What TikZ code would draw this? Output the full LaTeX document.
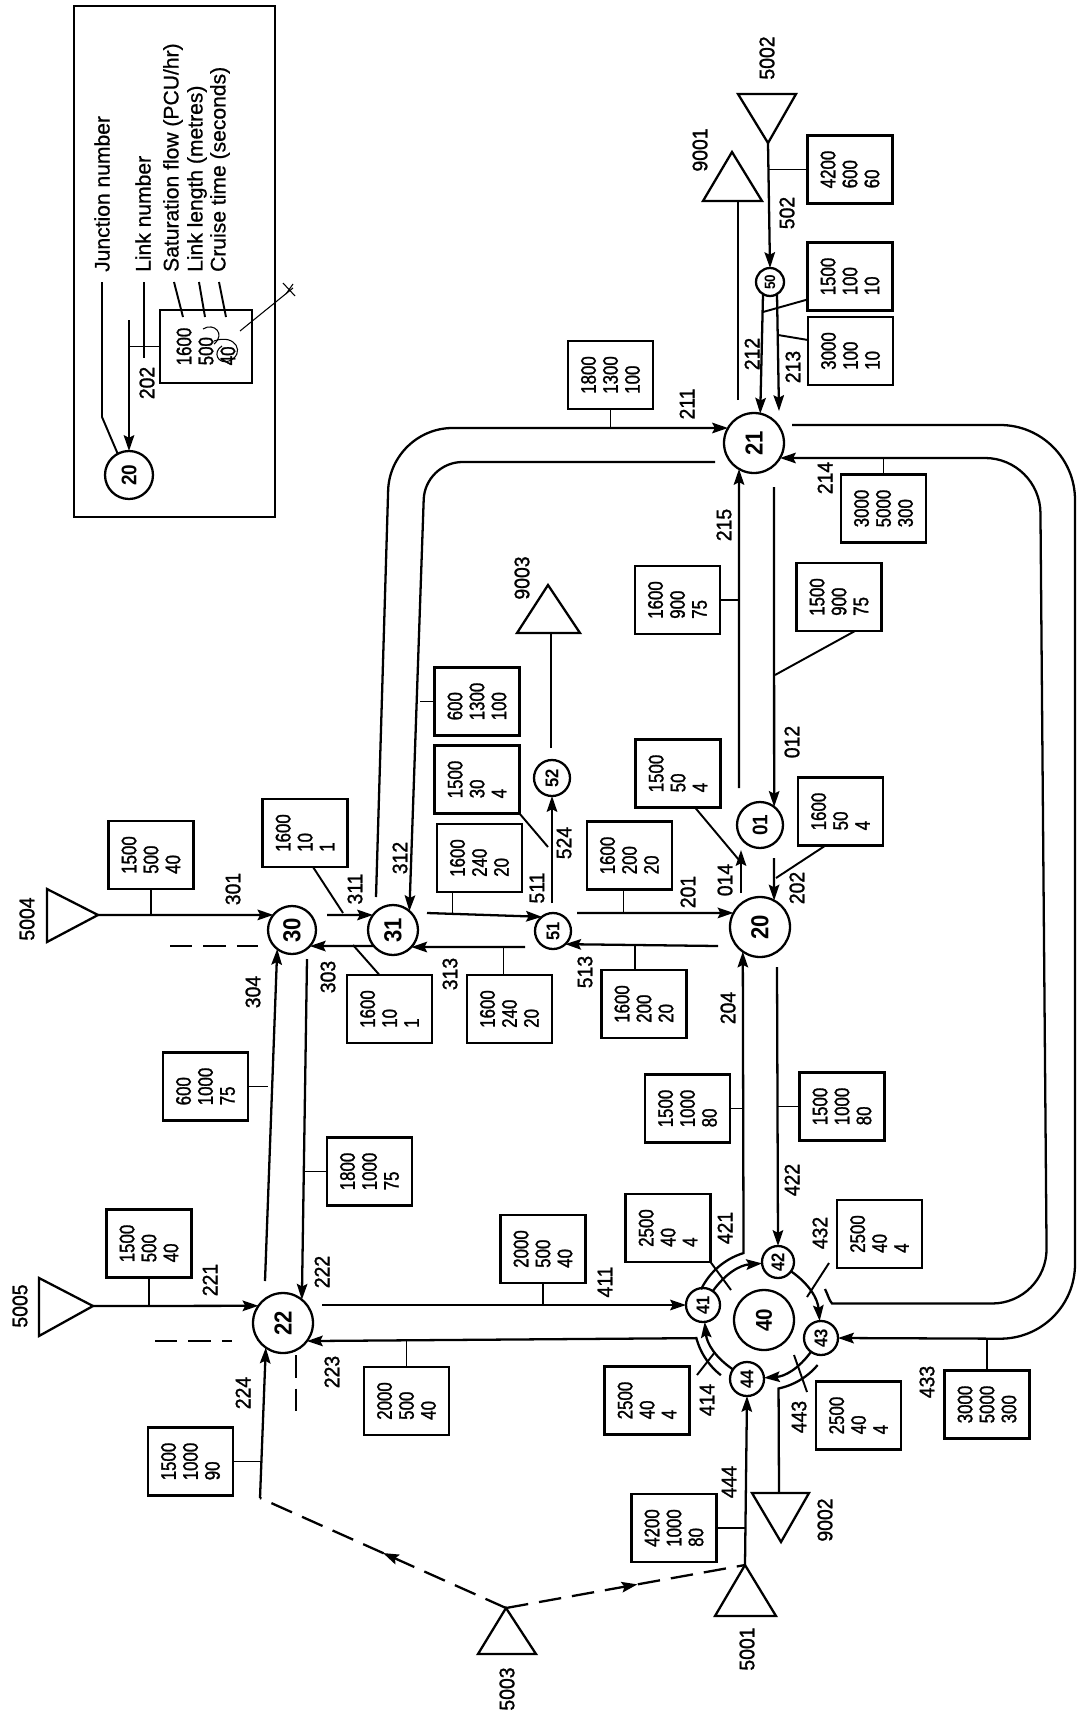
\documentclass[tikz,border=0pt]{standalone}
\usepackage{fontspec}
\usepackage{graphicx}
\setmainfont{Liberation Sans}[FakeBold=0.8]
\newfontfamily\boxfont{Liberation Sans}[FakeStretch=0.8,FakeBold=1.3]
\newfontfamily\labfont{Liberation Sans}[FakeStretch=0.92,FakeBold=1.3]
\newfontfamily\jfont{Liberation Sans}[FakeStretch=0.9]
\usetikzlibrary{arrows.meta,calc,decorations.markings}
\newcommand\rt[1]{\rotatebox{90}{#1}}
\begin{document}
\begin{tikzpicture}[x=0.02cm,y=-0.02cm,line width=1.3pt,
  arr/.style={-{Stealth[length=9pt,width=6pt,inset=1.5pt]}},
  tick/.style={line width=1.1pt},
  dbox/.style={draw,rotate=90,align=left,minimum width=1.36cm,minimum height=1.7cm,inner sep=0pt,outer sep=0pt,font=\boxfont\fontsize{12}{12.5}\selectfont},
  lab/.style={rotate=90,inner sep=0pt,font=\labfont\fontsize{12}{12}\selectfont},
  leg/.style={rotate=90,inner sep=0pt,anchor=west,font=\fontsize{12}{12}\selectfont},
  jn/.style={draw,circle,inner sep=0pt,outer sep=0pt,minimum size=#1,font=\jfont\bfseries\fontsize{14}{14}\selectfont},
  js/.style={draw,circle,inner sep=0pt,outer sep=0pt,minimum size=#1,font=\jfont\bfseries\fontsize{10.5}{10.5}\selectfont},
  dsh/.style={dash pattern=on 0.45cm off 0.22cm},
  midarr/.style={postaction={decorate},decoration={markings,mark=at position #1 with {\arrow{Stealth[length=9pt,width=6pt,inset=1.5pt]}}}},
  hand/.style={line width=0.6pt}]
\useasboundingbox (0,0) rectangle (1077,1717);

% ---------------- legend ----------------
\node[draw,minimum width=4.02cm,minimum height=10.22cm,inner sep=0pt,outer sep=0pt] (legend) at (174.5,261.5) {};
\node[jn=0.96cm,font=\jfont\bfseries\fontsize{12}{12}\selectfont] (j20L) at (129,475) {\rt{20}};
\node[dbox,minimum width=1.46cm,minimum height=1.84cm] (B1) at (206,346.5) {1600\\500\\40};
\node[leg] (tJun) at (102,273) {Junction number};
\node[leg] (tLink) at (143,273) {Link number};
\node[leg] (tSat) at (173,273) {Saturation flow (PCU/hr)};
\node[leg] (tLen) at (197,273) {Link length (metres)};
\node[leg] (tCru) at (220,273) {Cruise time (seconds)};
\node[lab] (l202L) at (147,383) {202};
\coordinate (c202L) at (129,320);
\draw[arr] (c202L) -- (j20L);
\draw[tick] (B1.north) -- (B1.north -| 129,0);
\draw[tick] ([shift={(0,9)}]tJun.west) -- (102,417) -- (j20L.118);
\draw[tick] ([shift={(1,9)}]tLink.west) -- (144,358);
\draw[tick] ([shift={(1,9)}]tSat.west) -- (183,317);
\draw[tick] ([shift={(2,9)}]tLen.west) -- (205,317);
\draw[tick] ([shift={(-1,9)}]tCru.west) -- (226,317);
% handwritten marks
\draw[hand] (203,329) .. controls (214,322) and (226,334) .. (214,344);
\draw[hand] (214,341) .. controls (236,333) and (246,354) .. (229,361) .. controls (218,365) and (212,352) .. (222,346);
\draw[hand] (240,331) -- (293,288);
\draw[hand] (283,283) -- (295,296);
\draw[hand] (286,294) -- (293,284);

% ---------------- junctions ----------------
\node[jn=1.2cm] (j21) at (754,443) {\rt{21}};
\node[jn=1.2cm] (j20) at (760,927) {\rt{20}};
\node[jn=0.92cm,font=\jfont\bfseries\fontsize{12}{12}\selectfont] (j01) at (760,825) {\rt{01}};
\node[jn=0.96cm] (j30) at (292,930) {\rt{30}};
\node[jn=1.0cm] (j31) at (393,930) {\rt{31}};
\node[js=0.72cm] (j51) at (553,931) {\rt{51}};
\node[js=0.72cm] (j52) at (552,778) {\rt{52}};
\node[js=0.56cm,font=\jfont\bfseries\fontsize{8.5}{8.5}\selectfont] (j50) at (770,282) {\rt{50}};
\node[jn=1.2cm] (j22) at (283,1323) {\rt{22}};
\node[jn=1.2cm,font=\jfont\bfseries\fontsize{13}{13}\selectfont] (j40) at (764,1320) {\rt{40}};
\node[js=0.68cm] (j41) at (703,1305) {\rt{41}};
\node[js=0.64cm] (j42) at (778,1262) {\rt{42}};
\node[js=0.68cm] (j43) at (821,1338) {\rt{43}};
\node[js=0.68cm] (j44) at (747,1379) {\rt{44}};

% ---------------- zones (triangles) ----------------
\coordinate (t5002) at (768,143); \draw (738,94) -- (796,94) -- (t5002) -- cycle;
\coordinate (t9001) at (732,152); \draw (t9001) -- (762,201) -- (703,201) -- cycle;
\coordinate (t9003) at (548,585); \draw (t9003) -- (580,633) -- (517,633) -- cycle;
\coordinate (t5004) at (98,915);  \draw (47,889) -- (t5004) -- (47,942) -- cycle;
\coordinate (t5005) at (93,1306); \draw (39,1278) -- (t5005) -- (39,1336) -- cycle;
\coordinate (t5003) at (506,1608); \draw (t5003) -- (536,1654) -- (478,1654) -- cycle;
\coordinate (t5001) at (745,1565); \draw (t5001) -- (776,1616) -- (715,1616) -- cycle;
\coordinate (t9002) at (781,1542); \draw (752,1493) -- (809,1493) -- (t9002) -- cycle;
\coordinate (t9001b) at (738,201);
\coordinate (t9003b) at (551,633);
\coordinate (t9002t) at (779,1493);
\node[lab] (z5002) at (767,58) {5002};
\node[lab] (z9001) at (700,150) {9001};
\node[lab] (z9003) at (522,578) {9003};
\node[lab] (z5004) at (27,919) {5004};
\node[lab] (z5005) at (20,1306) {5005};
\node[lab] (z5003) at (507,1689) {5003};
\node[lab] (z5001) at (747,1649) {5001};
\node[lab] (z9002) at (825,1520) {9002};

% ---------------- data boxes ----------------
\node[dbox] (B211) at (610.5,375) {1800\\1300\\100};
\node[dbox] (B502) at (850,169.5) {4200\\600\\60};
\node[dbox] (B212) at (850,276.5) {1500\\100\\10};
\node[dbox] (B213) at (850.5,351) {3000\\100\\10};
\node[dbox] (B214) at (883.5,508.5) {3000\\5000\\300};
\node[dbox] (B215) at (677.5,600) {1600\\900\\75};
\node[dbox] (B012) at (839,597) {1500\\900\\75};
\node[dbox] (B312) at (477,701.5) {600\\1300\\100};
\node[dbox] (B524) at (477,779.5) {1500\\30\\4};
\node[dbox] (B014) at (678,773.5) {1500\\50\\4};
\node[dbox] (B202) at (840.5,811.5) {1600\\50\\4};
\node[dbox] (B301) at (151,855) {1500\\500\\40};
\node[dbox] (B311) at (305,833) {1600\\10\\1};
\node[dbox] (B511) at (479.5,858) {1600\\240\\20};
\node[dbox] (B201) at (629.5,855.5) {1600\\200\\20};
\node[dbox] (B303) at (389.5,1009) {1600\\10\\1};
\node[dbox] (B313) at (509.5,1009) {1600\\240\\20};
\node[dbox] (B513) at (644,1004) {1600\\200\\20};
\node[dbox] (B304) at (205.5,1086.5) {600\\1000\\75};
\node[dbox] (B204) at (687.5,1108.5) {1500\\1000\\80};
\node[dbox] (B422) at (842,1106.5) {1500\\1000\\80};
\node[dbox] (B222) at (369.5,1171.5) {1800\\1000\\75};
\node[dbox] (B221) at (149,1243.5) {1500\\500\\40};
\node[dbox] (B411) at (543,1249) {2000\\500\\40};
\node[dbox] (B421) at (668,1228) {2500\\40\\4};
\node[dbox] (B432) at (879.5,1234) {2500\\40\\4};
\node[dbox] (B223) at (406.5,1401) {2000\\500\\40};
\node[dbox] (B414) at (647,1400.5) {2500\\40\\4};
\node[dbox] (B443) at (858.5,1415.5) {2500\\40\\4};
\node[dbox] (B433) at (987,1404.5) {3000\\5000\\300};
\node[dbox] (B224) at (190.5,1461.5) {1500\\1000\\90};
\node[dbox] (B444) at (674,1528) {4200\\1000\\80};

% ---------------- link labels ----------------
\node[lab] (l211) at (687,404) {211};
\node[lab] (l212) at (752,354) {212};
\node[lab] (l213) at (793,367) {213};
\node[lab] (l502) at (787,213) {502};
\node[lab] (l214) at (825,478) {214};
\node[lab] (l215) at (724,525) {215};
\node[lab] (l012) at (792,742) {012};
\node[lab] (l312) at (400,858) {312};
\node[lab] (l524) at (564,843) {524};
\node[lab] (l014) at (725,880) {014};
\node[lab] (l202) at (797,888) {202};
\node[lab] (l301) at (233,889) {301};
\node[lab] (l311) at (355,889) {311};
\node[lab] (l511) at (537,888) {511};
\node[lab] (l201) at (688,892) {201};
\node[lab] (l303) at (328,977) {303};
\node[lab] (l313) at (450,974) {313};
\node[lab] (l513) at (585,972) {513};
\node[lab] (l304) at (253,992) {304};
\node[lab] (l204) at (728,1008) {204};
\node[lab] (l422) at (792,1180) {422};
\node[lab] (l222) at (322,1272) {222};
\node[lab] (l221) at (210,1280) {221};
\node[lab] (l411) at (605,1282) {411};
\node[lab] (l421) at (725,1228) {421};
\node[lab] (l432) at (820,1233) {432};
\node[lab] (l223) at (332,1372) {223};
\node[lab] (l414) at (707,1400) {414};
\node[lab] (l443) at (799,1417) {443};
\node[lab] (l433) at (927,1382) {433};
\node[lab] (l224) at (243,1393) {224};
\node[lab] (l444) at (729,1482) {444};

% ---------------- free link ends ----------------
\coordinate (c211s) at (376,897);
\coordinate (c312s) at (715,462);
\coordinate (c215s) at (739,788);
\coordinate (c012s) at (774,487);
\coordinate (c014s) at (741,893);
\coordinate (c014e) at (741,850);
\coordinate (c202s) at (774,858);
\coordinate (c201s) at (577,913);
\coordinate (c513s) at (718,946);
\coordinate (c511s) at (427,913);
\coordinate (c524s) at (552,903);
\coordinate (c9003s) at (551,748);
\coordinate (c311s) at (327,915);
\coordinate (c313s) at (525,947);
\coordinate (c304s) at (265,1281);
\coordinate (c222s) at (307,959);
\coordinate (c411s) at (322,1305);
\coordinate (c224s) at (260,1498);
\coordinate (c213e) at (779,411);
\coordinate (c9001s) at (738,400);
\coordinate (c433s) at (792,425);
\coordinate (c422s) at (777,967);
\coordinate (c214s) at (825,1289);
\coordinate (c214b) at (832,1303.5);

% ---------------- links ----------------
\draw[arr,rounded corners=1.25cm] (c211s) -- (390,428) -- (j21.150);
\draw[arr,rounded corners=0.75cm] (c312s) -- (425,462) -- (j31.49);
\draw[arr] (c215s) -- (j21.240);
\draw[arr] (c012s) -- (j01.52);
\draw[arr] (c014s) -- (c014e);
\draw[arr] (c202s) -- (j20.62);
\draw[arr] (c201s) -- (j20.152);
\draw[arr] (c513s) -- (j51.313);
\draw[arr] (c511s) -- (j51.128);
\draw[arr] (c524s) -- (j52.south);
\draw (c9003s) -- (t9003b);
\draw[arr] (t5004) -- (j30.141);
\draw[arr] (c311s) -- (j31.143);
\draw[arr] (j31.220) -- (j30.318);
\draw[arr] (c313s) -- (j31.317);
\draw[arr] (c304s) -- (j30.232);
\draw[arr] (c222s) -- (j22.51);
\draw[arr] (t5005) -- (j22.145);
\draw[arr] (c411s) -- (j41.west);
\draw[arr] (c224s) -- (j22.235);
\draw[dsh,midarr=0.5] (t5003) -- (c224s);
\draw[dsh,midarr=0.55] (t5003) -- (t5001);
\draw[arr] (t5001) -- (j44.south);
\draw[arr] (t5002) -- (j50.north);
\draw[arr] (j50.240) -- (j21.78);
\draw[arr] (j50.300) -- (c213e);
\draw (c9001s) -- (t9001b);
\draw[arr,rounded corners=1.5cm] (c433s) -- (1075,425) -- (1075,1339) -- (j43.east);
\draw[arr] (c214s) .. controls (828,1295) and (829,1300) .. (c214b) [rounded corners=1.1cm] -- (1047,1303.5) -- (1040,458) -- (j21.330);
\draw[arr] (c422s) -- (j42.north);
\draw[arr] plot[domain=206:253,samples=24,variable=\t] ({764+70*cos(\t)},{1320+70*sin(\t)}) -- (j20.235);
\draw[arr] plot[domain=128:165,samples=24,variable=\t] ({764+70*cos(\t)},{1320+70*sin(\t)}) -- (j22.323);
\draw plot[domain=40:78,samples=24,variable=\t] ({764+70*cos(\t)},{1320+70*sin(\t)}) -- (t9002t);
% roundabout circulating links
\draw[arr] (j41) to[bend left=25] (j42);
\draw[arr] (j42) to[bend left=25] (j43);
\draw[arr] (j43) to[bend left=25] (j44);
\draw[arr] (j44) to[bend left=25] (j41);
% dashed stubs
\draw[dsh] (170,946) -- (258,946);
\draw[dsh] (155,1341) -- (232,1341);
\draw[dsh] (296,1355) -- (296,1417);

% ---------------- box connectors ----------------
\draw[tick] (B211.west) -- (B211.west |- 0,428);
\draw[tick] (B502.north) -- (B502.north -| 768,0);
\draw[tick] (B214.east) -- (B214.east |- 0,458);
\draw[tick] (B215.south) -- (B215.south -| 739,0);
\draw[tick] (B312.north) -- (B312.north -| 420,0);
\draw[tick] (B301.west) -- (B301.west |- 0,915);
\draw[tick] ($(B511.west)+(-27,0)$) -- ++(0,21);
\draw[tick] ($(B201.west)+(-6,0)$) -- ++(0,24);
\draw[tick] ($(B513.east)+(-9,0)$) -- ++(0,-24);
\draw[tick] ($(B313.east)+(-6,0)$) -- ++(0,-28);
\draw[tick] (B304.south) -- (B304.south -| 268,0);
\draw[tick] (B204.south) -- (B204.south -| 743,0);
\draw[tick] (B422.north) -- (B422.north -| 777,0);
\draw[tick] (B222.north) -- (B222.north -| 304,0);
\draw[tick] (B221.west) -- (B221.west |- 0,1306);
\draw[tick] (B411.west) -- (B411.west |- 0,1305);
\draw[tick] (B223.east) -- (B223.east |- 0,1340);
\draw[tick] (B433.east) -- (B433.east |- 0,1339);
\draw[tick] (B224.south) -- (B224.south -| 261,0);
\draw[tick] (B444.south) -- (B444.south -| 746,0);
\draw[tick] ($(B012.west)+(16,0)$) -- (775,675);
\draw[tick] ($(B202.west)+(-15,0)$) -- (776,878);
\draw[tick] ($(B014.west)+(17,0)$) -- (739,860);
\draw[tick] (B524.south west) -- (548,847);
\draw[tick] ($(B311.west)+(8,0)$) -- (343,913);
\draw[tick] ($(B303.east)+(-10,0)$) -- (353,945);
\draw[tick] ($(B212.north)+(0,23)$) -- (763,312);
\draw[tick] ($(B213.north)+(0,-11)$) -- (778,335);
% roundabout crossing ticks
\draw[tick] (B421.south west) -- (731,1290);
\draw[tick] (829,1263) -- (807,1297);
\draw[tick] (794,1355) -- (807,1392);
\draw[tick] (697,1375) -- (715,1352);
\end{tikzpicture}
\end{document}
